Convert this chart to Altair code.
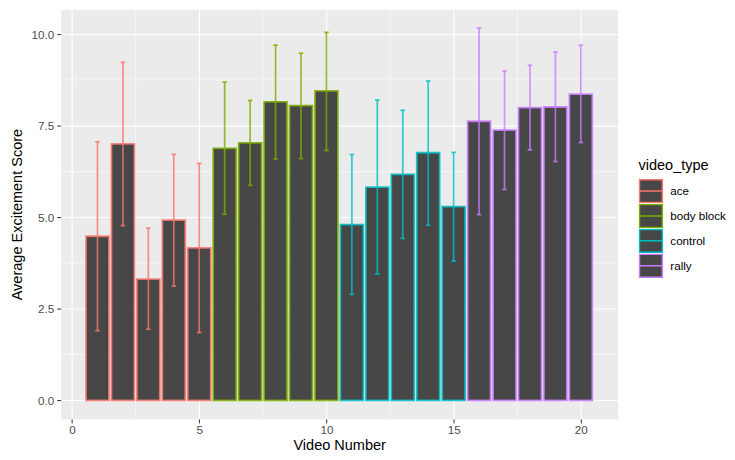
import altair as alt
import pandas as pd

video = list(range(1, 21))
video_type = ["ace"] * 5 + ["body block"] * 5 + ["control"] * 5 + ["rally"] * 5
mean_score = [4.48, 7.00, 3.31, 4.92, 4.16, 6.88, 7.03, 8.15, 8.05, 8.45,
              4.80, 5.82, 6.17, 6.76, 5.29, 7.62, 7.38, 7.99, 8.01, 8.36]
err_lo = [1.90, 4.77, 1.94, 3.12, 1.85, 5.08, 5.87, 6.59, 6.60, 6.82,
          2.89, 3.45, 4.42, 4.78, 3.80, 5.07, 5.76, 6.84, 6.52, 7.04]
err_hi = [7.06, 9.23, 4.70, 6.72, 6.47, 8.69, 8.19, 9.70, 9.48, 10.05,
          6.71, 8.20, 7.92, 8.72, 6.77, 10.17, 8.99, 9.15, 9.51, 9.70]

type_names = ["ace", "body block", "control", "rally"]
type_colors = ["#F8766D", "#7CAE00", "#00BFC4", "#C77CFF"]

x_major = [0, 5, 10, 15, 20]
x_minor = [2.5, 7.5, 12.5, 17.5]
y_major = [0, 2.5, 5, 7.5, 10]
y_minor = [1.25, 3.75, 6.25, 8.75]

df = pd.DataFrame({"video": video, "video_type": video_type,
                   "mean": mean_score, "lo": err_lo, "hi": err_hi})

FONT = "Liberation Sans"
x_scale = alt.Scale(domain=[-0.445, 21.445], nice=False, zero=False)
y_scale = alt.Scale(domain=[-0.51, 10.68], nice=False, zero=False)

stroke_enc = alt.Stroke(
    "video_type:N",
    scale=alt.Scale(domain=type_names, range=type_colors),
    legend=alt.Legend(
        title="video_type", orient="none", legendX=581, legendY=150,
        symbolType="M-1,-1H1V1H-1Z M-1,0H1", symbolSize=529,
        symbolFillColor="#474747", symbolStrokeWidth=1.5,
        labelFont=FONT, labelFontSize=11.7, labelColor="#000000",
        labelLimit=0,
        titleFont=FONT, titleFontSize=14.6, titleFontWeight="normal",
        titleColor="#000000", titlePadding=6, rowPadding=0,
        clipHeight=24.6,
        labelOffset=7, padding=0,
    ),
)

x_axis = alt.Axis(values=x_major, format="d", title="Video Number",
                  grid=True, gridColor="#FFFFFF", gridWidth=1.1,
                  domain=False, tickColor="#333333", tickSize=4, tickWidth=1,
                  labelColor="#4D4D4D", labelFont=FONT, labelFontSize=11.7,
                  labelPadding=2, titleFont=FONT, titleFontSize=14.6,
                  titleFontWeight="normal", titleColor="#000000",
                  titleBaseline="alphabetic", titleX=280, titleY=31)
y_axis = alt.Axis(values=y_major, format=".1f", title="Average Excitement Score",
                  grid=True, gridColor="#FFFFFF", gridWidth=1.1,
                  domain=False, tickColor="#333333", tickSize=4, tickWidth=1,
                  labelColor="#4D4D4D", labelFont=FONT, labelFontSize=11.7,
                  labelPadding=3, titleFont=FONT, titleFontSize=14.6,
                  titleFontWeight="normal", titleColor="#000000",
                  titleBaseline="middle", titleX=-43, titleY=206)

minor_v = alt.Chart(pd.DataFrame({"v": x_minor})).mark_rule(
    color="#FFFFFF", strokeWidth=0.55).encode(
    x=alt.X("v:Q", scale=x_scale, axis=x_axis))
minor_h = alt.Chart(pd.DataFrame({"v": y_minor})).mark_rule(
    color="#FFFFFF", strokeWidth=0.55).encode(
    y=alt.Y("v:Q", scale=y_scale, axis=y_axis))

base = alt.Chart(df)

bars = base.transform_calculate(
    x0="datum.video - 0.45", x1="datum.video + 0.45", y0="0"
).mark_bar(fill="#474747", strokeWidth=1.8, strokeOpacity=0.85).encode(
    x=alt.X("x0:Q", scale=x_scale, axis=x_axis),
    x2="x1:Q",
    y=alt.Y("mean:Q", scale=y_scale, axis=y_axis),
    y2="y0:Q",
    stroke=stroke_enc,
)

err = base.mark_rule(strokeWidth=1.7, opacity=0.8).encode(
    x=alt.X("video:Q", scale=x_scale, axis=x_axis),
    y=alt.Y("lo:Q", scale=y_scale, axis=y_axis),
    y2="hi:Q",
    stroke=stroke_enc,
)

caps_top = base.transform_calculate(
    c0="datum.video - 0.09", c1="datum.video + 0.09"
).mark_rule(strokeWidth=1.7, opacity=0.8).encode(
    x=alt.X("c0:Q", scale=x_scale, axis=x_axis),
    x2="c1:Q",
    y=alt.Y("hi:Q", scale=y_scale, axis=y_axis),
    stroke=stroke_enc,
)
caps_bot = base.transform_calculate(
    c0="datum.video - 0.09", c1="datum.video + 0.09"
).mark_rule(strokeWidth=1.7, opacity=0.8).encode(
    x=alt.X("c0:Q", scale=x_scale, axis=x_axis),
    x2="c1:Q",
    y=alt.Y("lo:Q", scale=y_scale, axis=y_axis),
    stroke=stroke_enc,
)

chart = alt.layer(minor_v, minor_h, bars, err, caps_top, caps_bot).properties(
    width=560, height=412,
    autosize=alt.AutoSizeParams(type="none"),
    padding={"left": 53, "top": 0, "right": 110, "bottom": 32},
    background="#FFFFFF",
).configure_view(fill="#EBEBEB", stroke="transparent")

chart.save("out.html", embed_options={"renderer": "svg", "actions": False})
